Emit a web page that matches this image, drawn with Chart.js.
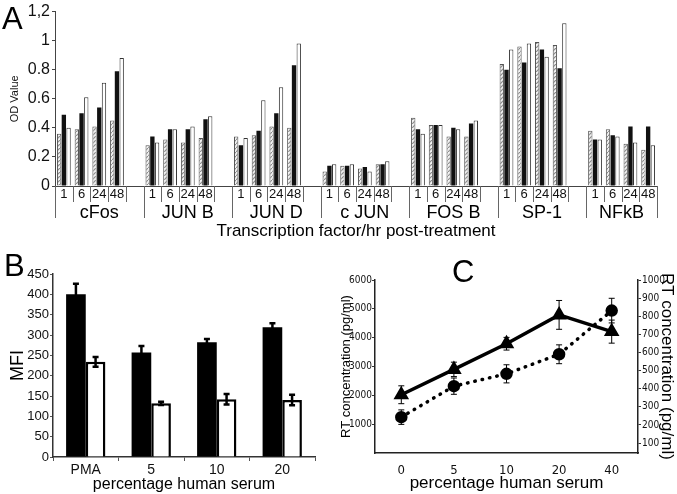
<!DOCTYPE html>
<html>
<head>
<meta charset="utf-8">
<script src="https://cdn.jsdelivr.net/npm/chart.js@4/dist/chart.umd.min.js"></script>
<style>
body{margin:0;background:#fff;width:677px;height:494px;overflow:hidden;position:relative;font-family:"Liberation Sans",Arial,sans-serif}
canvas{position:absolute}
.letter{position:absolute;font-size:31px;line-height:1;color:#000}
</style>
</head>
<body>
<canvas id="chartA" width="677" height="245" style="left:0;top:0"></canvas>
<canvas id="chartB" width="340" height="249" style="left:0;top:245px"></canvas>
<canvas id="chartC" width="337" height="249" style="left:340px;top:245px"></canvas>
<div class="letter" style="left:2px;top:3px">A</div>
<div class="letter" style="left:4px;top:250px">B</div>
<div class="letter" style="left:452px;top:256px">C</div>
<script>
// panel A: OD value per transcription factor and hour
const groups = ['cFos', 'JUN B', 'JUN D', 'c JUN', 'FOS B', 'SP-1', 'NFkB'];
const hours = ['1', '6', '24', '48'];
const odHatched = [
  0.36, 0.39, 0.41, 0.45,
  0.28, 0.32, 0.30, 0.33,
  0.34, 0.35, 0.41, 0.40,
  0.10, 0.14, 0.12, 0.15,
  0.47, 0.42, 0.34, 0.34,
  0.84, 0.96, 0.99, 0.97,
  0.38, 0.39, 0.29, 0.25
];
const odBlack = [
  0.49, 0.50, 0.54, 0.79,
  0.34, 0.39, 0.39, 0.46,
  0.28, 0.38, 0.50, 0.83,
  0.14, 0.14, 0.13, 0.15,
  0.39, 0.42, 0.40, 0.43,
  0.80, 0.85, 0.94, 0.81,
  0.32, 0.35, 0.41, 0.41
];
const odWhite = [
  0.40, 0.61, 0.71, 0.88,
  0.30, 0.39, 0.41, 0.48,
  0.33, 0.59, 0.68, 0.98,
  0.15, 0.15, 0.10, 0.17,
  0.36, 0.42, 0.39, 0.45,
  0.94, 0.98, 0.89, 1.12,
  0.32, 0.34, 0.30, 0.28
];
const odTicks = [0, 0.2, 0.4, 0.6, 0.8, 1, 1.2];
const odTickText = ['0', '0.2', '0.4', '0.6', '0.8', '1', '1,2'];

// panel B: MFI
const mfiCats = ['PMA', '5', '10', '20'];
const mfiBlack = [400, 257, 282, 319];
const mfiBlackErr = [26, 16, 8, 10];
const mfiWhite = [234, 132, 142, 140];
const mfiWhiteErr = [12, 4, 13, 13];

// panel C: RT concentration
const serumCats = ['0', '5', '10', '20', '40'];
const rtTriangle = [2020, 2900, 3790, 4790, 4210];
const rtTriangleErr = [310, 250, 220, 500, 400];
const rtCircle = [243, 414, 482, 590, 831];
const rtCircleErr = [40, 45, 50, 52, 68];
const rtLeftTicks = [1000, 2000, 3000, 4000, 5000, 6000];
const rtRightTicks = [100, 200, 300, 400, 500, 600, 700, 800, 900, 1000];

const SANS = '"Liberation Sans", Arial, sans-serif';
const NARROW = '"Liberation Sans Narrow", "DejaVu Sans Condensed", "Arial Narrow", sans-serif';
Chart.defaults.font.family = SANS;
Chart.defaults.color = '#111';

// slots: 4 hours per group plus an empty spacer slot between groups
const slotLabels = [], slotH = [], slotB = [], slotW = [];
groups.forEach((g, gi) => {
  hours.forEach((h, hi) => {
    slotLabels.push(h);
    slotH.push(odHatched[gi * 4 + hi]);
    slotB.push(odBlack[gi * 4 + hi]);
    slotW.push(odWhite[gi * 4 + hi]);
  });
  if (gi < groups.length - 1) {
    slotLabels.push(''); slotH.push(null); slotB.push(null); slotW.push(null);
  }
});

function hatch() {
  const c = document.createElement('canvas');
  c.width = 4; c.height = 4;
  const g = c.getContext('2d');
  g.fillStyle = '#f2f2f2'; g.fillRect(0, 0, 4, 4);
  g.strokeStyle = '#8a8a8a'; g.lineWidth = 1.2;
  g.beginPath(); g.moveTo(-1, 5); g.lineTo(5, -1); g.stroke();
  return g.createPattern(c, 'repeat');
}

const groupRow = {
  id: 'groupRow',
  afterDraw(chart) {
    const x = chart.scales.x, ctx = chart.ctx;
    const base = chart.chartArea.bottom;
    const n = slotLabels.length;
    const half = (x.getPixelForValue(1) - x.getPixelForValue(0)) / 2;
    const edge = i => x.getPixelForValue(i) - half;
    ctx.save();
    ctx.strokeStyle = '#666';
    ctx.lineWidth = 1;
    for (let i = 0; i <= n; i++) {
      const px = Math.round(edge(i)) + 0.5;
      const long = i % 5 === 0 || i === n;
      ctx.beginPath();
      ctx.moveTo(px, base);
      ctx.lineTo(px, base + (long ? 32 : 16));
      ctx.stroke();
    }
    ctx.fillStyle = '#000';
    ctx.font = '18px ' + SANS;
    ctx.textAlign = 'center';
    ctx.textBaseline = 'middle';
    groups.forEach((g, gi) => {
      const a = edge(gi * 5), b = edge(Math.min(gi * 5 + 5, n));
      ctx.fillText(g, (a + b) / 2, base + 27);
    });
    ctx.restore();
  }
};

const errorBars = {
  id: 'errorBars',
  afterDatasetsDraw(chart) {
    const ctx = chart.ctx;
    chart.data.datasets.forEach((ds, i) => {
      if (!ds.errors) return;
      const meta = chart.getDatasetMeta(i);
      const scale = chart.scales[meta.yAxisID];
      ctx.save();
      ctx.strokeStyle = '#000';
      ctx.lineWidth = ds.errorWidth;
      meta.data.forEach((el, j) => {
        const v = ds.data[j], e = ds.errors[j];
        const top = scale.getPixelForValue(v + e), bot = scale.getPixelForValue(v - e);
        const w = ds.capWidth;
        ctx.beginPath();
        ctx.moveTo(el.x, top); ctx.lineTo(el.x, bot);
        ctx.moveTo(el.x - w, top); ctx.lineTo(el.x + w, top);
        ctx.moveTo(el.x - w, bot); ctx.lineTo(el.x + w, bot);
        ctx.stroke();
      });
      ctx.restore();
    });
  }
};

new Chart(document.getElementById('chartA'), {
  type: 'bar',
  data: {
    labels: slotLabels,
    datasets: [
      {data: slotH, backgroundColor: hatch(), borderColor: '#555', borderWidth: 1},
      {data: slotB, backgroundColor: '#111', borderWidth: 0},
      {data: slotW, backgroundColor: '#fff', borderColor: '#333', borderWidth: 1}
    ]
  },
  options: {
    responsive: false, animation: false,
    layout: {padding: {top: 10, right: 20, left: 0, bottom: 0}},
    plugins: {legend: {display: false}, tooltip: {enabled: false}},
    datasets: {bar: {categoryPercentage: 0.8, barPercentage: 0.92}},
    scales: {
      x: {
        grid: {display: false, drawTicks: false},
        border: {color: '#444'},
        ticks: {autoSkip: false, maxRotation: 0, padding: 1, font: {size: 13}},
        title: {display: true, text: 'Transcription factor/hr post-treatment', font: {size: 17}, color: '#000', padding: {top: 0, bottom: 3}},
        afterFit(s) { s.height = 59; }
      },
      y: {
        min: 0, max: 1.2,
        afterBuildTicks(s) { s.ticks = odTicks.map(v => ({value: v})); },
        ticks: {callback: v => odTickText[odTicks.indexOf(v)], font: {size: 16}, padding: 2},
        grid: {drawOnChartArea: false, tickLength: 3, color: '#444'},
        border: {color: '#444'},
        title: {display: true, text: 'OD Value', font: {size: 11}, padding: {top: 8, bottom: 0}},
        afterFit(s) { s.width = 55; }
      }
    }
  },
  plugins: [groupRow]
});

new Chart(document.getElementById('chartB'), {
  type: 'bar',
  data: {
    labels: mfiCats,
    datasets: [
      {data: mfiBlack, errors: mfiBlackErr, errorWidth: 2.5, capWidth: 3, backgroundColor: '#000', borderWidth: 0},
      {data: mfiWhite, errors: mfiWhiteErr, errorWidth: 2.5, capWidth: 3, backgroundColor: '#fff', borderColor: '#000', borderWidth: 2.5}
    ]
  },
  options: {
    responsive: false, animation: false,
    layout: {padding: {top: 29, right: 25, left: 0, bottom: 0}},
    plugins: {legend: {display: false}, tooltip: {enabled: false}},
    datasets: {bar: {categoryPercentage: 0.6, barPercentage: 1}},
    scales: {
      x: {
        grid: {offset: true, drawOnChartArea: false, tickLength: 4, color: '#555'},
        border: {color: '#333', width: 1.5},
        ticks: {font: {size: 14}, padding: 1},
        title: {display: true, text: 'percentage human serum', font: {size: 16}, color: '#000', padding: {top: 0, bottom: 0}},
        afterFit(s) { s.height = 37; }
      },
      y: {
        min: 0, max: 450,
        ticks: {stepSize: 50, font: {size: 13}, padding: 1},
        grid: {drawOnChartArea: false, tickLength: 3, color: '#555'},
        border: {color: '#333', width: 1.5},
        title: {display: true, text: 'MFI', font: {size: 18}, color: '#000', padding: {top: 7, bottom: 0}},
        afterFit(s) { s.width = 53; }
      }
    }
  },
  plugins: [errorBars]
});

new Chart(document.getElementById('chartC'), {
  type: 'line',
  data: {
    labels: serumCats,
    datasets: [
      {data: rtTriangle, errors: rtTriangleErr, errorWidth: 1, capWidth: 3, yAxisID: 'y',
       borderColor: '#000', borderWidth: 3.5, pointStyle: 'triangle', pointRadius: 5.5,
       pointBackgroundColor: '#000', pointBorderColor: '#000', tension: 0},
      {data: rtCircle, errors: rtCircleErr, errorWidth: 1, capWidth: 3, yAxisID: 'y1',
       borderColor: '#000', borderWidth: 3.5, borderDash: [0.5, 7], borderCapStyle: 'round',
       pointStyle: 'circle', pointRadius: 4.5, pointBackgroundColor: '#000', pointBorderColor: '#000', tension: 0}
    ]
  },
  options: {
    responsive: false, animation: false,
    layout: {padding: {top: 35, right: 0, left: 0, bottom: 0}},
    plugins: {legend: {display: false}, tooltip: {enabled: false}},
    scales: {
      x: {
        offset: true,
        grid: {display: false, drawTicks: false},
        border: {color: '#222', width: 1.5},
        ticks: {font: {family: NARROW, size: 13}, padding: 10},
        title: {display: true, text: 'percentage human serum', font: {size: 17}, color: '#000', padding: {top: 0, bottom: 0}},
        afterFit(s) { s.height = 41; }
      },
      y: {
        position: 'left', min: 0, max: 6000,
        afterBuildTicks(s) { s.ticks = rtLeftTicks.map(v => ({value: v})); },
        ticks: {autoSkip: false, callback: v => String(v), font: {family: NARROW, size: 10}, padding: 0},
        grid: {drawOnChartArea: false, tickLength: 3, color: '#333'},
        border: {color: '#222', width: 1.5},
        title: {display: true, text: 'RT concentration (pg/ml)', font: {size: 13}, color: '#000', padding: {top: -1, bottom: 0}},
        afterFit(s) { s.width = 35; }
      },
      y1: {
        position: 'right', min: 45, max: 1000,
        afterBuildTicks(s) { s.ticks = rtRightTicks.map(v => ({value: v})); },
        ticks: {autoSkip: false, callback: v => String(v), font: {family: NARROW, size: 10}, padding: 1},
        grid: {drawOnChartArea: false, tickLength: 3, color: '#333'},
        border: {color: '#222', width: 1.5},
        title: {display: true, text: 'RT concentration (pg/ml)', font: {size: 17}, color: '#000', padding: {top: 0, bottom: 0}},
        afterFit(s) { s.width = 39; }
      }
    }
  },
  plugins: [errorBars]
});
</script>
</body>
</html>
